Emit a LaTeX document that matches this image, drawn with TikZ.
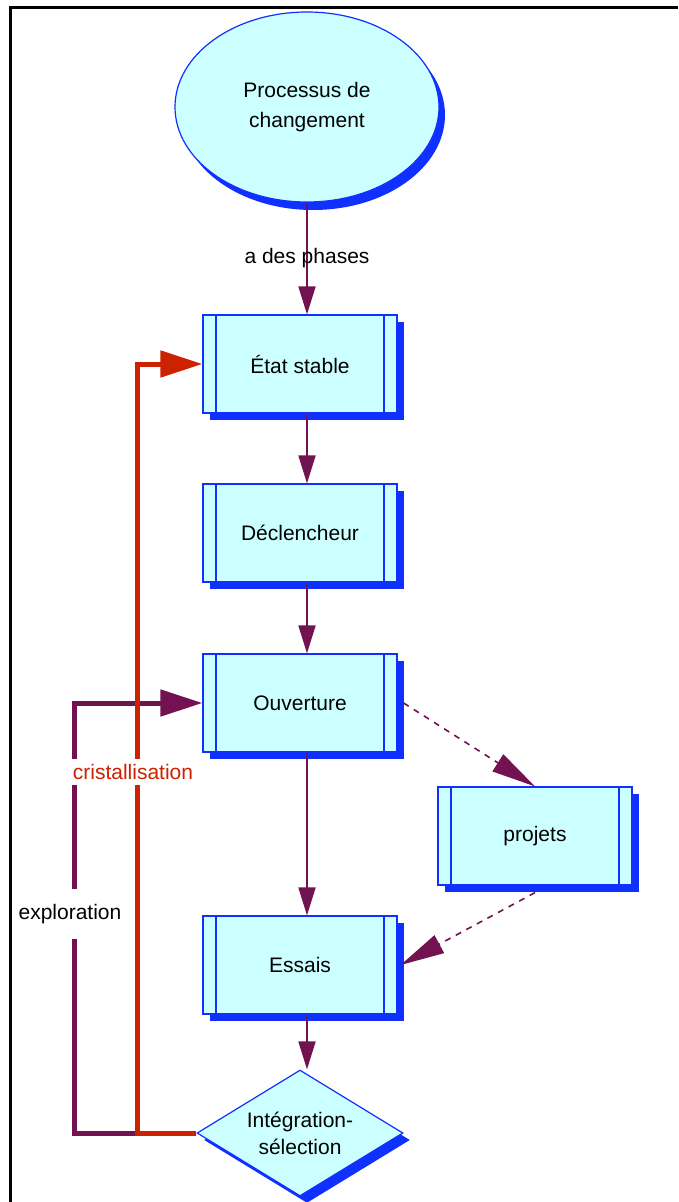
\documentclass[tikz,border=0pt]{standalone}
\usepackage{fontspec}
\setmainfont{Liberation Sans}
\usepackage{xcolor}
\usepackage{tikz}
\usetikzlibrary{arrows.meta,shapes.geometric,shadows}
\definecolor{cellcyan}{RGB}{204,255,255}
\definecolor{cellblue}{RGB}{16,48,255}
\definecolor{linkplum}{RGB}{115,18,80}
\definecolor{loopred}{RGB}{204,34,0}

\begin{document}
\begin{tikzpicture}[x=1pt,y=-1pt,
  every node/.style={font=\fontsize{21}{27}\selectfont},
  boxshadow/.style={drop shadow={shadow xshift=7pt,shadow yshift=-7pt,fill=cellblue,opacity=1}},
  phase/.style={draw=cellblue,fill=cellcyan,line width=1.2pt,minimum width=194pt,minimum height=98pt,boxshadow,
    path picture={\draw[cellblue,line width=1.2pt]
      ([xshift=13pt]path picture bounding box.north west) -- ([xshift=13pt]path picture bounding box.south west)
      ([xshift=-13pt]path picture bounding box.north east) -- ([xshift=-13pt]path picture bounding box.south east);}},
  flow/.style={draw=linkplum,line width=1.8pt,-{Triangle[length=28pt,width=17pt]}},
  hint/.style={flow,line width=1.6pt,dash pattern=on 6pt off 6pt,-{Triangle[length=44pt,width=20pt]}},
  loopback/.style={line width=5pt,-{Triangle[length=42pt,width=26pt]}}]
  \useasboundingbox (0,0) rectangle (678,1202);
  \draw[line width=3pt] (10.5,1202) -- (10.5,7.5) -- (678,7.5);

  \node[ellipse,draw=cellblue,fill=cellcyan,line width=1.2pt,minimum width=264pt,minimum height=190pt,
    align=center,font=\fontsize{21}{30}\selectfont,
    drop shadow={shadow xshift=6pt,shadow yshift=-8pt,fill=cellblue,opacity=1}]
    (proc) at (307,107) {Processus de\\changement};
  \node[phase] (etat) at (300,364) {État stable};
  \node[phase] (decl) at (300,533) {Déclencheur};
  \node[phase] (ouv)  at (300,703) {Ouverture};
  \node[phase] (proj) at (535,836) {projets};
  \node[phase] (ess)  at (300,965) {Essais};
  \node[diamond,draw=cellblue,fill=cellcyan,line width=1.2pt,aspect=1.63,inner sep=0pt,
    minimum width=206pt,minimum height=126pt,align=center,boxshadow]
    (integ) at (300,1133) {Intégration-\\sélection};

  \coordinate (xplor) at (74,0);
  \coordinate (crist) at (137,0);

  \draw[flow] (proc.south) -- node {a des phases} (etat.north -| proc);
  \draw[flow] (etat.south -| proc) -- (decl.north -| proc);
  \draw[flow] (decl.south -| proc) -- (ouv.north -| proc);
  \draw[flow] (ouv.south -| proc) -- (ess.north -| proc);
  \draw[flow] (ess.south -| proc) -- (integ.north -| proc);
  \draw[hint] ([xshift=6pt]ouv.east) -- (proj.north);
  \draw[hint] ([yshift=-7pt]proj.south) -- ([xshift=3pt]ess.east);

  \draw[loopback,linkplum] (integ.west) -| (xplor |- ouv.west) -- (ouv.west);
  \node[fill=white,inner xsep=3pt,inner ysep=15pt] (xplab) at (70,914) {exploration};
  \draw[loopback,loopred] (integ.west) -| (crist |- etat.west) -- (etat.west);
  \node[fill=white,text=loopred,inner xsep=3pt,inner ysep=5pt] (crlab) at (133,772) {cristallisation};
\end{tikzpicture}
\end{document}
